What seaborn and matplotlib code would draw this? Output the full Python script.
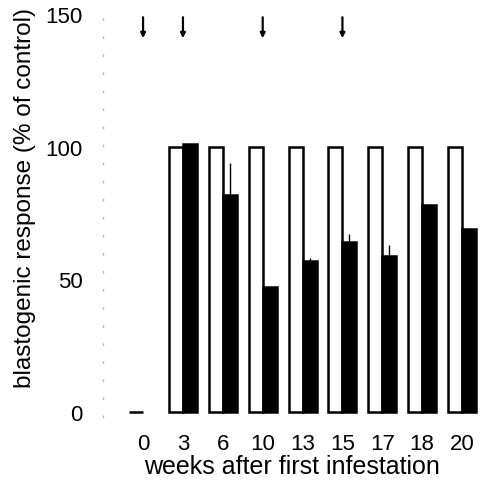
import numpy as np
import pandas as pd
import seaborn as sns
import matplotlib.pyplot as plt

weeks = ["0", "3", "6", "10", "13", "15", "17", "18", "20"]
control = [0, 100, 100, 100, 100, 100, 100, 100, 100]
infested = [np.nan, 101, 82, 47, 57, 64, 59, 78, 69]
infested_err = [0, 0, 12, 0, 1, 3, 4, 0, 0]
arrow_weeks = ["0", "3", "10", "15"]

df = pd.DataFrame({
    "week": weeks * 2,
    "group": ["control"] * len(weeks) + ["infested"] * len(weeks),
    "value": control + infested,
})

sns.set_style("white")
plt.rcParams["font.family"] = ["Liberation Sans", "DejaVu Sans"]
plt.rcParams["text.color"] = "black"
plt.rcParams["axes.labelcolor"] = "black"
plt.rcParams["xtick.color"] = "black"
plt.rcParams["ytick.color"] = "black"

fig = plt.figure(figsize=(4.8, 4.89), dpi=100)
ax = fig.add_axes([0.215, 0.1446, 0.785, 0.8346])

sns.barplot(
    data=df, x="week", y="value", hue="group",
    order=weeks, hue_order=["control", "infested"],
    palette=["white", "black"], edgecolor="black", linewidth=1.8,
    width=0.7, errorbar=None, legend=False, ax=ax,
)

# upper error bars on the infested bars
xpos = np.arange(len(weeks)) + 0.175
vals = np.nan_to_num(np.array(infested, dtype=float))
err = np.array(infested_err, dtype=float)
mask = err > 0
ax.errorbar(xpos[mask], vals[mask], yerr=[np.zeros(mask.sum()), err[mask]],
            fmt="none", ecolor="black", elinewidth=1.0, capsize=0)

# infestation arrows
for w in arrow_weeks:
    i = weeks.index(w)
    ax.annotate("", xy=(i, 140), xytext=(i, 150),
                arrowprops=dict(arrowstyle="-|>", color="black", lw=1.6,
                                mutation_scale=7))

ax.set_xlim(-1.0, 8.45)
ax.set_ylim(-2, 152)
ax.set_yticks([0, 50, 100, 150])
for s in ["top", "right", "bottom"]:
    ax.spines[s].set_visible(False)
ax.spines["left"].set_color("#bbbbbb")
ax.spines["left"].set_linestyle((0, (1, 12)))
ax.spines["left"].set_linewidth(1.0)
ax.tick_params(axis="both", length=0, labelsize=16)
ax.tick_params(axis="y", pad=15)
ax.tick_params(axis="x", pad=11)
ax.set_xlabel("weeks after first infestation", fontsize=18, labelpad=0)
ax.set_ylabel("blastogenic response (% of control)", fontsize=17.5)
ax.yaxis.set_label_coords(-0.178, 0.54)

fig.savefig("out.png", dpi=100)
